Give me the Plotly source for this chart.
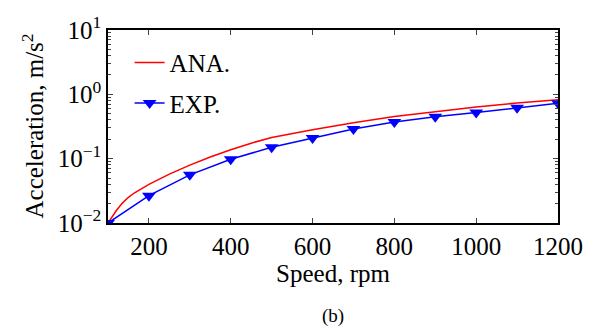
import plotly.graph_objects as go

# Data
speed_exp = [100, 200, 300, 400, 500, 600, 700, 800, 900, 1000, 1100, 1200]
acc_exp = [0.010, 0.0266, 0.056, 0.098, 0.15, 0.21, 0.29, 0.37, 0.45, 0.52, 0.62, 0.73]

speed_ana = [100, 110, 120, 135, 150, 165, 180, 200, 250, 300, 350, 400, 450, 500,
             600, 700, 800, 900, 1000, 1100, 1200]
acc_ana = [0.0100, 0.0126, 0.0155, 0.0204, 0.0251, 0.0295, 0.0339, 0.0398, 0.0575, 0.0794,
           0.106, 0.138, 0.174, 0.214, 0.282, 0.363, 0.452, 0.543, 0.638, 0.733, 0.822]

x_ticks = [200, 400, 600, 800, 1000, 1200]
y_ticks = [0.01, 0.1, 1, 10]
y_ticktext = ["10<sup>−2</sup>", "10<sup>−1</sup>", "10<sup>0</sup>", "10<sup>1</sup>"]
y_minor = [m * 10 ** e for e in (-2, -1, 0) for m in range(2, 10)]

FONT = "Liberation Serif, Times New Roman, serif"

fig = go.Figure()
fig.add_trace(go.Scatter(
    x=speed_ana, y=acc_ana, mode="lines", name="ANA.", legendgroup="a",
    line=dict(color="#ff0000", width=1.5),
))
fig.add_trace(go.Scatter(
    x=speed_exp, y=acc_exp, mode="lines+markers", name="EXP.", legendgroup="b",
    line=dict(color="#0000ff", width=1.5),
    marker=dict(symbol="triangle-down", size=12, color="#0000ff"),
))

fig.update_layout(
    width=597, height=329,
    margin=dict(l=108, r=39, t=24, b=106),
    paper_bgcolor="white", plot_bgcolor="white",
    font=dict(family=FONT, size=25, color="black"),
    showlegend=True,
    legend=dict(
        x=0.048, y=0.95, xanchor="left", yanchor="top",
        bgcolor="rgba(0,0,0,0)", font=dict(family=FONT, size=25),
        tracegroupgap=5,
    ),
    xaxis=dict(
        range=[100, 1200], tickvals=x_ticks, ticks="inside", ticklen=5,
        showline=True, linecolor="black", linewidth=1.5, mirror="ticks",
        showgrid=False, zeroline=False,
        title=dict(text="Speed, rpm", standoff=4, font=dict(family=FONT, size=25)),
        tickfont=dict(family=FONT, size=25),
    ),
    yaxis=dict(
        type="log", range=[-2, 1], tickvals=y_ticks, ticktext=y_ticktext,
        ticks="inside", ticklen=5,
        minor=dict(tickvals=y_minor, ticks="inside", ticklen=3, showgrid=False),
        showline=True, linecolor="black", linewidth=1.5, mirror="ticks",
        showgrid=False, zeroline=False,
        tickfont=dict(family=FONT, size=25),
    ),
    annotations=[
        dict(
            text="Acceleration, m/s<sup>2</sup>", x=0, y=0.5, xref="paper", yref="paper",
            xanchor="center", yanchor="middle", xshift=-76, textangle=-90, showarrow=False,
            font=dict(family=FONT, size=25),
        ),
        dict(
            text="(b)", x=0.5, y=0, xref="paper", yref="paper",
            xanchor="center", yanchor="middle", yshift=-93, showarrow=False,
            font=dict(family=FONT, size=19),
        ),
    ],
)

fig.write_html("out.html", config={"displayModeBar": False},
               post_script="document.body.style.margin='0';")
